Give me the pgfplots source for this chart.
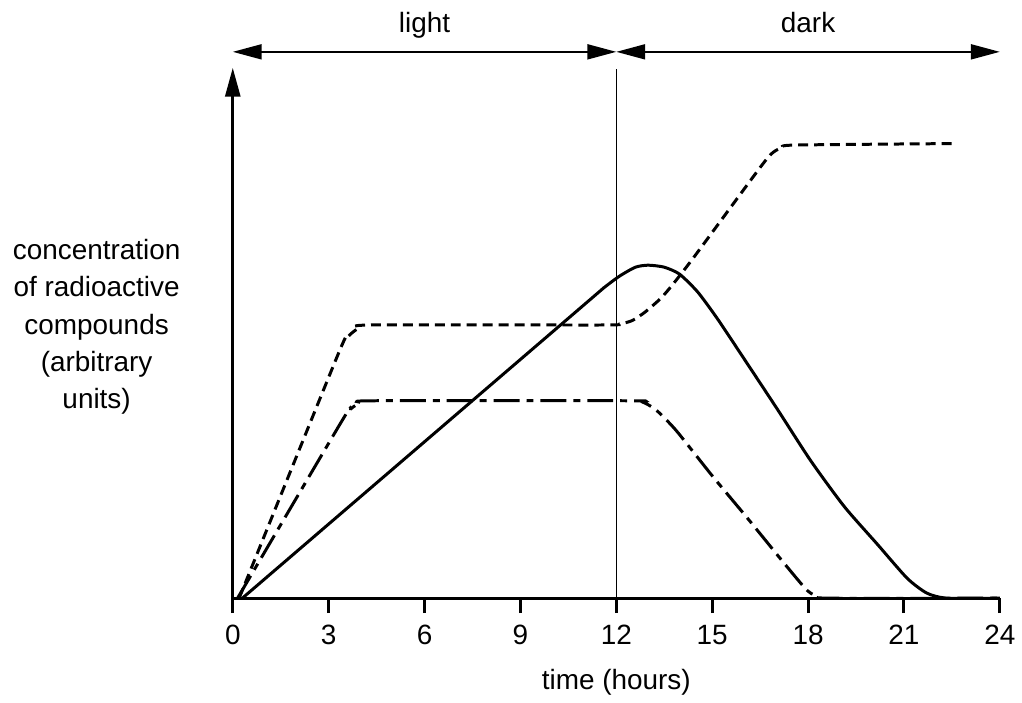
\documentclass[border=0pt]{standalone}
\usepackage{pgfplots}
\pgfplotsset{compat=1.18}
\usepackage{fontspec}
\setmainfont{Liberation Sans}
\usetikzlibrary{arrows.meta}

\tikzset{bigtip/.tip={Triangle[length=14.5pt,width=7.5pt]}}

\begin{document}
\begin{tikzpicture}
\begin{axis}[
    x=16.03pt, y=5pt,
    xmin=0, xmax=24,
    ymin=0, ymax=53.2,
    axis x line=bottom,
    axis y line=left,
    x axis line style={-},
    y axis line style={-bigtip},
    axis line style={line width=1.5pt, black},
    xtick={0,3,...,24},
    ytick=\empty,
    xtick align=outside,
    major tick length=7.5pt,
    tick style={line width=1.5pt, black},
    font=\fontsize{14}{18.75}\selectfont,
    tick label style={font=\fontsize{14}{18.75}\selectfont},
    xticklabel style={yshift=-2.5pt},
    /pgf/number format/assume math mode=true,
    clip=false
]

% solid
\addplot[black, line width=1.5pt, smooth, tension=0.4] coordinates {
    (0.3,0) (10.8,28.9) (11.6,31.1) (12.1,32.3) (12.6,33.2) (13.0,33.4)
    (13.5,33.2) (13.98,32.5) (14.55,30.7) (15.17,28.0) (16.0,24.0)
    (17.05,18.9) (18.08,13.8) (19.13,9.2) (20.17,5.4) (21.1,2.0)
    (21.72,0.5) (22.35,0) (24,0)
};

% dashed
\addplot[black, line width=1.5pt, dash pattern=on 5pt off 3pt, smooth, tension=0.4] coordinates {
    (0.2,0) (3.3,24.5) (3.6,26.2) (3.9,27.0) (4.3,27.4) (11.5,27.4)
    (12.1,27.5) (12.5,27.85) (12.9,28.7) (13.4,30.1) (13.8,31.6) (14.45,34.3)
    (16.5,43.2) (16.9,44.7) (17.2,45.2) (17.6,45.45) (22.6,45.6)
};

% dash-dot
\addplot[black, line width=1.5pt, dash pattern=on 13pt off 3.5pt on 3.5pt off 3.5pt, smooth, tension=0.4] coordinates {
    (0.15,0) (3.4,17.7) (3.7,19.0) (4.0,19.6) (4.4,19.8) (12.4,19.8)
    (12.8,19.7) (13.2,19.0) (13.56,17.9) (13.93,16.6) (15.02,12.2)
    (16.11,8.0) (17.2,3.7) (17.77,1.5) (18.0,0.7) (18.2,0.3) (18.6,0) (24,0)
};

% light / dark
\draw[line width=0.75pt] (axis cs:12,0) -- (axis cs:12,53.1);
\draw[line width=1pt, bigtip-bigtip] (axis cs:0,54.8) -- (axis cs:12,54.8);
\draw[line width=1pt, bigtip-bigtip] (axis cs:12,54.8) -- (axis cs:24,54.8);
\node[anchor=base] at (axis cs:6,56.7) {light};
\node[anchor=base] at (axis cs:18,56.7) {dark};

\node[anchor=base] at (axis cs:12,-9.2) {time (hours)};
\node[align=center] at (axis cs:-4.26,27.2) {concentration\\of radioactive\\compounds\\(arbitrary\\units)};

\path (axis cs:-7.283,-9.9) rectangle (axis cs:24.594,60);
\end{axis}
\end{tikzpicture}
\end{document}
